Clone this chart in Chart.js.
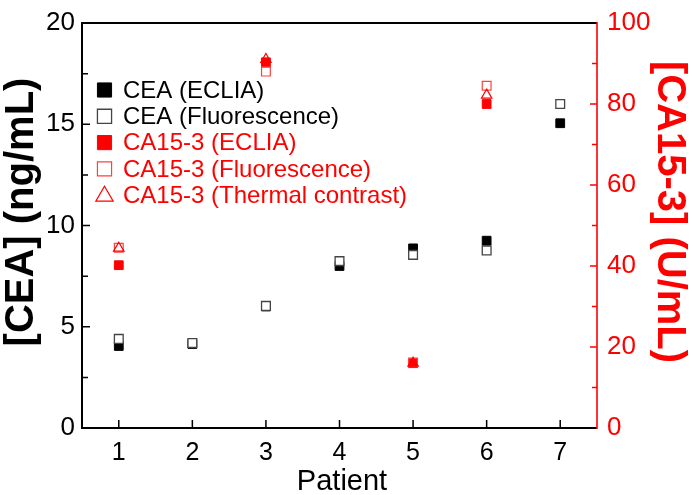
<!DOCTYPE html>
<html><head><meta charset="utf-8">
<script src="https://cdn.jsdelivr.net/npm/chart.js@4/dist/chart.umd.min.js"></script>
<style>html,body{margin:0;padding:0;background:#fff;overflow:hidden}#wrap{width:693px;height:495px}</style>
</head><body><div id="wrap"><canvas id="c" width="693" height="495"></canvas></div>
<script>
// ---- data ----
const patients = [1, 2, 3, 4, 5, 6, 7];
const ceaEclia = [4.05, 4.15, 6.0, 8.0, 8.87, 9.25, 15.05];
const ceaFluor = [4.4, 4.2, 6.03, 8.24, 8.55, 8.77, 16.0];
const ca153Eclia = [40.2, null, 90.3, null, 16.0, 80.0, null];
const ca153Fluor = [44.5, null, 88.0, null, 16.2, 84.5, null];
const ca153Thermal = [44.4, null, 91.0, null, 16.0, 82.2, null];
const xTicks = [1, 2, 3, 4, 5, 6, 7];
const yLeftTicks = [0, 5, 10, 15, 20];
const yLeftMinor = [2.5, 7.5, 12.5, 17.5];
const yRightTicks = [0, 20, 40, 60, 80, 100];
const yRightMinor = [10, 30, 50, 70, 90];
const labels = ['CEA (ECLIA)', 'CEA (Fluorescence)', 'CA15-3 (ECLIA)', 'CA15-3 (Fluorescence)', 'CA15-3 (Thermal contrast)'];
const xTitle = 'Patient';
const yLeftTitle = '[CEA] (ng/mL)';
const yRightTitle = '[CA15-3] (U/mL)';

const RED = '#ff0000';
const FONT = "'Liberation Sans', Arial, sans-serif";
const pts = arr => patients.map((p, i) => ({x: p, y: arr[i]})).filter(d => d.y !== null);

const datasets = [
  {label: labels[0], data: pts(ceaEclia), yAxisID: 'y', pointStyle: 'rect', pointRadius: 6.2, backgroundColor: '#000', borderColor: '#000', borderWidth: 1, lblColor: '#000', lgR: 10},
  {label: labels[1], data: pts(ceaFluor), yAxisID: 'y', pointStyle: 'rect', pointRadius: 6.2, backgroundColor: '#fff', borderColor: '#444', borderWidth: 1.3, lblColor: '#000', lgR: 10},
  {label: labels[2], data: pts(ca153Eclia), yAxisID: 'y2', pointStyle: 'rect', pointRadius: 6.2, backgroundColor: RED, borderColor: RED, borderWidth: 1, lblColor: RED, lgR: 10},
  {label: labels[3], data: pts(ca153Fluor), yAxisID: 'y2', pointStyle: 'rect', pointRadius: 6.2, backgroundColor: 'rgba(255,255,255,0)', borderColor: '#ff4040', borderWidth: 1.2, lblColor: RED, lgR: 10},
  {label: labels[4], data: pts(ca153Thermal), yAxisID: 'y2', pointStyle: 'triangle', pointRadius: 6, backgroundColor: 'rgba(255,255,255,0)', borderColor: RED, borderWidth: 1.2, lblColor: RED, lgR: 10}
];
datasets.forEach((d, i) => { d.order = -i; d.showLine = false; d.pointHoverRadius = d.pointRadius; });

const framePlugin = {
  id: 'frame',
  beforeDatasetsDraw(chart) {
    const ctx = chart.ctx, a = chart.chartArea;
    const xs = chart.scales.x, yl = chart.scales.y, yr = chart.scales.y2;
    ctx.save();
    ctx.lineCap = 'butt';
    ctx.strokeStyle = '#000'; ctx.lineWidth = 1.5;
    ctx.beginPath();
    xTicks.forEach(v => { const px = xs.getPixelForValue(v); ctx.moveTo(px, a.bottom); ctx.lineTo(px, a.bottom - 8); });
    yLeftTicks.forEach(v => { const py = yl.getPixelForValue(v); ctx.moveTo(a.left, py); ctx.lineTo(a.left + 8, py); });
    yLeftMinor.forEach(v => { const py = yl.getPixelForValue(v); ctx.moveTo(a.left, py); ctx.lineTo(a.left + 6, py); });
    ctx.stroke();
    ctx.strokeStyle = RED; ctx.lineWidth = 1.3;
    ctx.beginPath();
    yRightTicks.forEach(v => { const py = yr.getPixelForValue(v); ctx.moveTo(a.right, py); ctx.lineTo(a.right - 7, py); });
    yRightMinor.forEach(v => { const py = yr.getPixelForValue(v); ctx.moveTo(a.right, py); ctx.lineTo(a.right - 5, py); });
    ctx.stroke();
    ctx.strokeStyle = '#000'; ctx.lineWidth = 2;
    ctx.beginPath();
    ctx.moveTo(a.left, a.top); ctx.lineTo(a.left, a.bottom + 1);
    ctx.moveTo(a.left - 1, a.bottom); ctx.lineTo(a.right, a.bottom);
    ctx.moveTo(a.left - 1, a.top); ctx.lineTo(a.right, a.top);
    ctx.stroke();
    ctx.strokeStyle = RED; ctx.lineWidth = 1.6;
    ctx.beginPath();
    ctx.moveTo(a.right, a.top - 1); ctx.lineTo(a.right, a.bottom + 1);
    ctx.stroke();
    ctx.restore();
  },
  afterDatasetsDraw(chart) {
    const ctx = chart.ctx;
    const x0 = 104.5, tx = 123, y0 = 90, dy = 26.3;
    ctx.save();
    chart.data.datasets.forEach((d, i) => {
      const cy = y0 + i * dy;
      ctx.fillStyle = d.backgroundColor; ctx.strokeStyle = d.borderColor; ctx.lineWidth = d.borderWidth;
      Chart.helpers.drawPoint(ctx, {pointStyle: d.pointStyle, radius: d.lgR, rotation: 0, borderWidth: d.borderWidth}, x0, d.pointStyle === 'triangle' ? cy + 1 : cy);
      ctx.fillStyle = d.lblColor;
      ctx.font = '24px ' + FONT;
      ctx.textBaseline = 'middle'; ctx.textAlign = 'left';
      ctx.fillText(d.label, tx, cy + 1);
    });
    // axis titles
    ctx.textAlign = 'center'; ctx.textBaseline = 'middle';
    ctx.fillStyle = '#000';
    ctx.font = '29px ' + FONT;
    ctx.fillText(xTitle, 342, 482);
    ctx.font = 'bold 40px ' + FONT;
    ctx.save(); ctx.translate(22, 212); ctx.rotate(-Math.PI / 2); ctx.fillText(yLeftTitle, 0, 0); ctx.restore();
    ctx.fillStyle = RED;
    ctx.save(); ctx.translate(669, 212); ctx.rotate(Math.PI / 2); ctx.fillText(yRightTitle, 0, 0); ctx.restore();
    ctx.restore();
  }
};

new Chart(document.getElementById('c'), {
  type: 'scatter',
  data: {datasets},
  options: {
    responsive: false, animation: false, devicePixelRatio: 1,
    layout: {padding: {top: 13, right: 0, bottom: 0, left: 0}},
    plugins: {legend: {display: false}, tooltip: {enabled: false}},
    scales: {
      x: {
        type: 'linear', position: 'bottom', min: 0.5, max: 7.5,
        afterBuildTicks: s => { s.ticks = xTicks.map(v => ({value: v})); },
        afterFit: s => { s.height = 67; },
        grid: {display: false, drawTicks: false}, border: {display: false},
        ticks: {color: '#000', font: {family: FONT, size: 25, lineHeight: 1}, padding: 13, maxRotation: 0},
        title: {display: false}
      },
      y: {
        type: 'linear', position: 'left', min: 0, max: 20,
        afterBuildTicks: s => { s.ticks = yLeftTicks.map(v => ({value: v})); },
        afterFit: s => { s.width = 82; },
        grid: {display: false, drawTicks: false}, border: {display: false},
        ticks: {color: '#000', font: {family: FONT, size: 26, lineHeight: 1}, padding: 7},
        title: {display: false}
      },
      y2: {
        type: 'linear', position: 'right', min: 0, max: 100,
        afterBuildTicks: s => { s.ticks = yRightTicks.map(v => ({value: v})); },
        afterFit: s => { s.width = 96; },
        grid: {display: false, drawTicks: false}, border: {display: false},
        ticks: {color: RED, font: {family: FONT, size: 26, lineHeight: 1}, padding: 10},
        title: {display: false}
      }
    }
  },
  plugins: [framePlugin]
});
</script></body></html>
